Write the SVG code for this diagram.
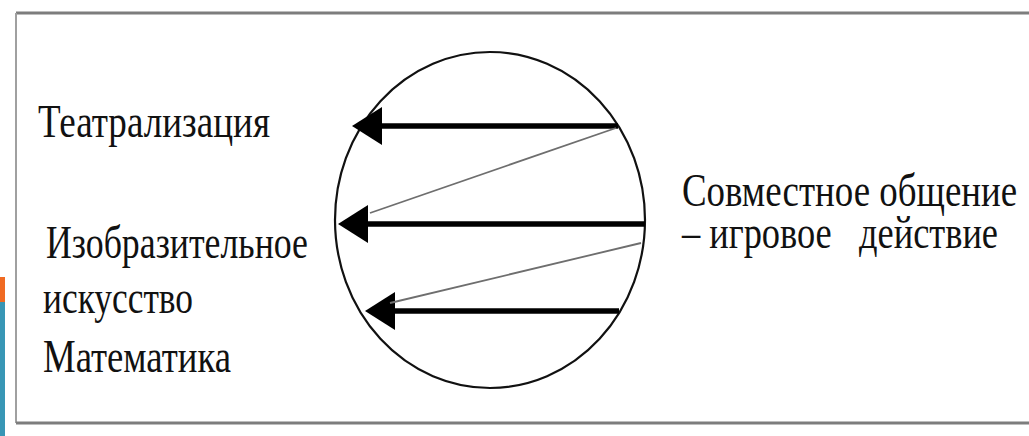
<svg xmlns="http://www.w3.org/2000/svg" width="1029" height="436" viewBox="0 0 1029 436">
  <style>
    text { font-family: 'Liberation Serif', 'DejaVu Serif', 'Times New Roman', serif; font-size: 47px; fill: #111; }
    .thick { stroke: #000; stroke-width: 5.5; fill: none; marker-end: url(#ah); }
    .thin { stroke: #6e6e6e; stroke-width: 1.8; fill: none; }
  </style>
  <defs>
    <marker id="ah" markerUnits="userSpaceOnUse" viewBox="0 0 30 38" markerWidth="30" markerHeight="38" refX="14" refY="19" orient="auto">
      <path d="M0,0 L30,19 L0,38 Z" fill="#000"/>
    </marker>
  </defs>
  <rect x="0" y="0" width="1029" height="436" fill="#fff"/>
  <g id="accent">
    <rect x="0" y="277" width="5" height="25" fill="#f06a22"/>
    <rect x="0" y="302" width="5" height="134" fill="#3896b5"/>
  </g>
  <g id="frame">
    <line x1="16" y1="13" x2="1029" y2="13" stroke="#7d7d7d" stroke-width="3"/>
    <line x1="16" y1="13" x2="16" y2="423" stroke="#a0a0a0" stroke-width="2"/>
    <line x1="16" y1="423" x2="1029" y2="423" stroke="#7d7d7d" stroke-width="3"/>
  </g>
  <g id="circle">
    <ellipse cx="490" cy="220" rx="155" ry="168" fill="none" stroke="#111" stroke-width="2.2"/>
  </g>
  <g id="connectors">
    <line class="thick" x1="618" y1="126" x2="368" y2="126"/>
    <line class="thick" x1="645" y1="224" x2="354" y2="224"/>
    <line class="thick" x1="619" y1="311" x2="381" y2="311"/>
    <line class="thin" x1="616" y1="128" x2="370" y2="213"/>
    <line class="thin" x1="641" y1="243" x2="390" y2="303"/>
  </g>
  <g id="node-theatre">
    <text x="38" y="137" textLength="232" lengthAdjust="spacingAndGlyphs">Театрализация</text>
  </g>
  <g id="node-art">
    <text x="46" y="258" textLength="262" lengthAdjust="spacingAndGlyphs">Изобразительное</text>
    <text x="43" y="313" textLength="150" lengthAdjust="spacingAndGlyphs">искусство</text>
  </g>
  <g id="node-math">
    <text x="43" y="372" textLength="188" lengthAdjust="spacingAndGlyphs">Математика</text>
  </g>
  <g id="node-communication" transform="translate(682,0) scale(0.8,1)">
    <text x="0" y="206" textLength="419" lengthAdjust="spacingAndGlyphs">Совместное общение</text>
    <text x="0" y="248" textLength="395" lengthAdjust="spacingAndGlyphs" xml:space="preserve">– игровое   действие</text>
  </g>
</svg>
